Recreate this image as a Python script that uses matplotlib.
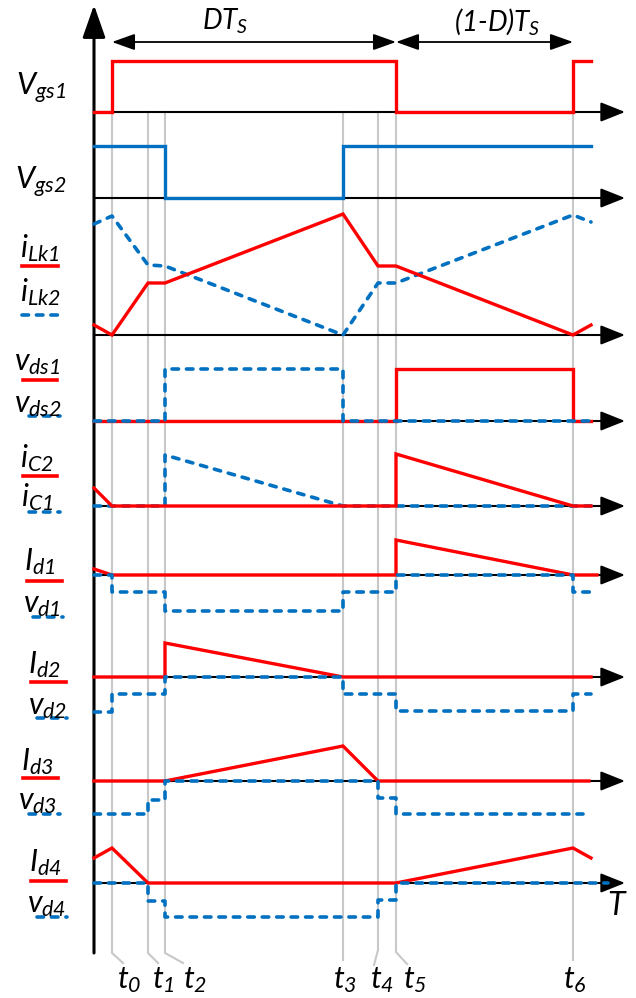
import matplotlib.pyplot as plt

plt.rcParams['font.family'] = ['Lato', 'DejaVu Sans']
plt.rcParams['mathtext.fontset'] = 'custom'
plt.rcParams['mathtext.it'] = 'Lato:italic'
plt.rcParams['mathtext.rm'] = 'Lato:italic'

ROJO = '#ff0000'
AZUL = '#0070c0'
GRIS = '#c8c8c8'

# instantes de conmutacion (unidades de tiempo)
t0, t1, t2, t3, t4, t5, t6 = 18, 54, 71, 249, 284, 302, 479
t_fin = 497
instantes = [t0, t1, t2, t3, t4, t5, t6]
nombres_t = ['t_0', 't_1', 't_2', 't_3', 't_4', 't_5', 't_6']

# senales de puerta
vgs1_t = [0, t0, t0, t5, t5, t6, t6, t_fin]
vgs1_v = [0, 0, 51, 51, 0, 0, 51, 51]
vgs2_t = [0, t2, t2, t3, t3, t_fin]
vgs2_v = [52, 52, 0, 0, 52, 52]

# corrientes de las inductancias de dispersion
ilk_t = [0, t0, t1, t2, t3, t4, t5, t6, t_fin]
ilk1_v = [10, 0, 52, 52, 121, 69, 69, 0, 10]
ilk2_v = [111, 119, 70, 69, 0, 52, 52, 120, 113]

# tensiones drenador-fuente
vds1_t = [0, t5, t5, t6, t6, t_fin]
vds1_v = [0, 0, 52, 52, 0, 0]
vds2_t = [0, t2, t2, t3, t3, t_fin]
vds2_v = [0, 0, 52, 52, 0, 0]

# corrientes de condensador
ic2_t = [0, t0, t5, t5, t6, t_fin]
ic2_v = [18, 0, 0, 52, 0, 0]
ic1_t = [0, t2, t2, t3, t_fin]
ic1_v = [0, 0, 51, 0, 0]

# diodos
id1_t = [0, t0, t5, t5, t6, 503]
id1_v = [6, 0, 0, 35, 0, 0]
vd1_t = [0, t0, t0, t2, t2, t3, t3, t5, t5, t6, t6, 503]
vd1_v = [0, 0, -17, -17, -36, -36, -17, -17, 0, 0, -17, -17]

id2_t = [0, t2, t2, t3, t_fin]
id2_v = [0, 0, 34, 0, 0]
vd2_t = [0, t0, t0, t2, t2, t3, t3, t5, t5, t6, t6, t_fin]
vd2_v = [-35, -35, -17, -17, 0, 0, -17, -17, -34, -34, -17, -17]

id3_t = [0, t2, t3, t4, 495]
id3_v = [0, 0, 35, 0, 0]
vd3_t = [0, t1, t1, t2, t2, t4, t4, t5, t5, 489]
vd3_v = [-33, -33, -19, -19, 0, 0, -17, -17, -33, -33]

id4_t = [0, t0, t1, t5, t6, t_fin]
id4_v = [25, 35, 0, 0, 35, 25]
vd4_t = [0, t1, t1, t2, t2, t4, t4, t5, t5, 514]
vd4_v = [0, 0, -18, -18, -34, -34, -17, -17, 0, 0]

# disposicion (pixeles)
X0 = 94
X_FLECHA = 625
bases = {'vgs1': 112, 'vgs2': 198, 'ilk': 335, 'vds': 421, 'ic': 506,
         'd1': 575, 'd2': 677, 'd3': 781, 'd4': 883}

fig = plt.figure(figsize=(6.36, 9.98), dpi=100)
ax = fig.add_axes([0, 0, 1, 1])
ax.set_xlim(0, 636)
ax.set_ylim(998, 0)
ax.axis('off')

PUNTEADO = (0, (1.8, 2.2))


def traza(base, tt, vv, color, punteado=False, z=3):
    x = [X0 + t for t in tt]
    y = [base - v for v in vv]
    if punteado:
        ax.plot(x, y, color=color, lw=2.6, ls=PUNTEADO, dash_capstyle='round',
                zorder=z)
    else:
        ax.plot(x, y, color=color, lw=2.4, zorder=z, solid_joinstyle='miter')


def flecha(x1, y1, x2, y2, estilo, lw=1.5, escala=20):
    ax.annotate('', xy=(x2, y2), xytext=(x1, y1),
                arrowprops=dict(arrowstyle=estilo, color='k', lw=lw,
                                mutation_scale=escala, shrinkA=0, shrinkB=0),
                zorder=2)


# ejes horizontales
for b in bases.values():
    flecha(X0, b, X_FLECHA, b, '-|>,head_length=0.75,head_width=0.3')
# eje vertical
flecha(X0, 953, X0, 5, '-|>,head_length=1.0,head_width=0.35', lw=2.2)

# lineas guia grises
codos = [(953, 11, 963), (953, 10, 963), (953, 18, 963), (960, 0, 960),
         (950, -4, 965), (952, 11, 964), (960, 0, 960)]
for t, (yc, dx, yf) in zip(instantes, codos):
    x = X0 + t
    ax.plot([x, x, x + dx], [112, yc, yf], color=GRIS, lw=1.5, zorder=1)

pos_t = [129, 163, 195, 345, 382, 415, 575]
for xt, nom in zip(pos_t, nombres_t):
    ax.text(xt, 980, r'$%s$' % nom, fontsize=22, ha='center', va='center')

ax.text(617, 906, r'$T$', fontsize=23, ha='center', va='center')

# flechas de periodo
flecha(X0 + t0, 42, X0 + t5, 42, '<|-|>,head_length=0.7,head_width=0.25', lw=1.3)
flecha(X0 + t5, 42, X0 + t6, 42, '<|-|>,head_length=0.7,head_width=0.25', lw=1.3)
ax.text(225, 21, r'$DT_S$', fontsize=20, ha='center', va='center')
ax.text(497, 21, r'(1-D)$T_S$', fontsize=20, ha='center', va='center',
        style='italic')

# formas de onda
traza(bases['vgs1'], vgs1_t, vgs1_v, ROJO)
traza(bases['vgs2'], vgs2_t, vgs2_v, AZUL)
traza(bases['ilk'], ilk_t, ilk2_v, AZUL, True)
traza(bases['ilk'], ilk_t, ilk1_v, ROJO, z=4)
traza(bases['vds'], vds1_t, vds1_v, ROJO)
traza(bases['vds'], vds2_t, vds2_v, AZUL, True, z=4)
traza(bases['ic'], ic1_t, ic1_v, AZUL, True)
traza(bases['ic'], ic2_t, ic2_v, ROJO, z=4)
traza(bases['d1'], id1_t, id1_v, ROJO)
traza(bases['d1'], vd1_t, vd1_v, AZUL, True, z=4)
traza(bases['d2'], id2_t, id2_v, ROJO)
traza(bases['d2'], vd2_t, vd2_v, AZUL, True, z=4)
traza(bases['d3'], id3_t, id3_v, ROJO)
traza(bases['d3'], vd3_t, vd3_v, AZUL, True, z=4)
traza(bases['d4'], id4_t, id4_v, ROJO)
traza(bases['d4'], vd4_t, vd4_v, AZUL, True, z=4)

# etiquetas de la izquierda con su muestra de linea
etiquetas = [
    (r'V_{gs1}', 41, 88, None, None),
    (r'V_{gs2}', 41, 182, None, None),
    (r'i_{Lk1}', 40, 248, ROJO, (22, 58, 266)),
    (r'i_{Lk2}', 40, 292, AZUL, (22, 65, 315)),
    (r'v_{ds1}', 37, 363, ROJO, (23, 57, 380)),
    (r'v_{ds2}', 38, 405, AZUL, (29, 60, 416)),
    (r'i_{C2}', 37, 458, ROJO, (23, 57, 476)),
    (r'i_{C1}', 37, 497, AZUL, (29, 60, 512)),
    (r'I_{d1}', 40, 562, ROJO, (27, 62, 581)),
    (r'v_{d1}', 42, 605, AZUL, (33, 63, 617)),
    (r'I_{d2}', 44, 665, ROJO, (31, 66, 682)),
    (r'v_{d2}', 48, 707, AZUL, (37, 67, 718)),
    (r'I_{d3}', 37, 762, ROJO, (23, 58, 778)),
    (r'v_{d3}', 38, 802, AZUL, (29, 60, 814)),
    (r'I_{d4}', 45, 863, ROJO, (31, 66, 881)),
    (r'v_{d4}', 47, 905, AZUL, (37, 67, 917)),
]
for txt, xe, ye, col, lin in etiquetas:
    ax.text(xe, ye, r'$%s$' % txt, fontsize=22, ha='center', va='center')
    if lin is not None:
        if col == ROJO:
            ax.plot([lin[0], lin[1]], [lin[2], lin[2]], color=col, lw=2.6)
        else:
            ax.plot([lin[0], lin[1]], [lin[2], lin[2]], color=col, lw=2.6,
                    ls=PUNTEADO, dash_capstyle='round')

fig.savefig('out.png', dpi=100)
